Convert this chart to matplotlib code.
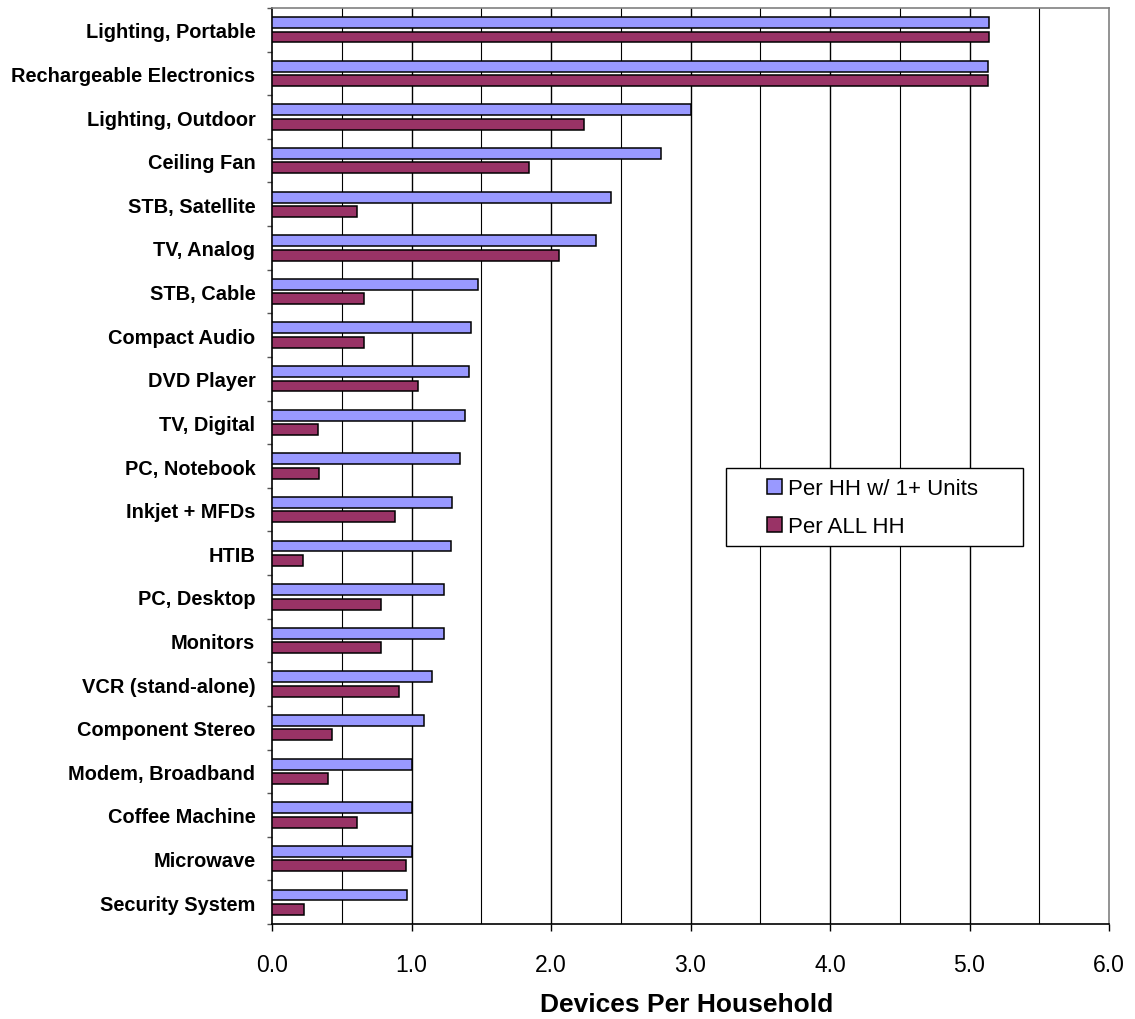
import numpy as np
import matplotlib
matplotlib.use('Agg')
import matplotlib.pyplot as plt
from matplotlib.patches import Rectangle

plt.rcParams['font.family'] = ['Liberation Sans', 'DejaVu Sans']

# devices per household, top to bottom
categories = ['Lighting, Portable', 'Rechargeable Electronics', 'Lighting, Outdoor',
              'Ceiling Fan', 'STB, Satellite', 'TV, Analog', 'STB, Cable',
              'Compact Audio', 'DVD Player', 'TV, Digital', 'PC, Notebook',
              'Inkjet + MFDs', 'HTIB', 'PC, Desktop', 'Monitors',
              'VCR (stand-alone)', 'Component Stereo', 'Modem, Broadband',
              'Coffee Machine', 'Microwave', 'Security System']
per_hh_units = [5.14, 5.13, 3.00, 2.79, 2.43, 2.32, 1.48, 1.43, 1.41, 1.38, 1.35,
                1.29, 1.28, 1.23, 1.23, 1.15, 1.09, 1.00, 1.00, 1.00, 0.97]
per_all_hh = [5.14, 5.13, 2.24, 1.84, 0.61, 2.06, 0.66, 0.66, 1.05, 0.33, 0.34,
              0.88, 0.22, 0.78, 0.78, 0.91, 0.43, 0.40, 0.61, 0.96, 0.23]
series_names = ['Per HH w/ 1+ Units', 'Per ALL HH']
xticks = [0, 1, 2, 3, 4, 5, 6]

W, H = 1135, 1020
fig = plt.figure(figsize=(W/100, H/100), dpi=100)
ax = fig.add_axes([272/W, 1-925/H, (1109-272)/W, (925-9)/H])

y = np.arange(len(categories))
bh = 0.25
off = 0.165
b1 = ax.barh(y - off, per_hh_units, height=bh, color='#9999FF', edgecolor='black',
             linewidth=1.1, zorder=3, label=series_names[0])
b2 = ax.barh(y + off, per_all_hh, height=bh, color='#993366', edgecolor='black',
             linewidth=1.1, zorder=3, label=series_names[1])

ax.set_xlim(0, 6)
ax.set_ylim(len(categories) - 0.5, -0.5)

# gridlines every 0.5
for gx in np.arange(0.5, 6.0, 0.5):
    lw = 1.0 if gx == int(gx) else 0.8
    ax.axvline(gx, color='black', linewidth=lw, zorder=1)

ax.set_xticks(xticks)
ax.set_xticklabels(['%.1f' % v for v in xticks], fontsize=16.5)
ax.tick_params(axis='x', direction='out', length=5, width=1, color='black', pad=16)

ax.set_yticks(y)
ax.set_yticklabels(categories, fontsize=14.4, fontweight='bold')
ax.tick_params(axis='y', which='major', length=0, pad=12)
ax.set_yticks(np.arange(-0.5, len(categories), 1.0), minor=True)
ax.tick_params(axis='y', which='minor', direction='out', length=3.6, width=1, color='#555555')

ax.spines['left'].set_color('black')
ax.spines['bottom'].set_color('black')
ax.spines['top'].set_color('#808080')
ax.spines['right'].set_color('#808080')
for s in ax.spines.values():
    s.set_linewidth(1.2)

ax.set_xlabel('Devices Per Household', fontsize=19, fontweight='bold', va='baseline')
ax.xaxis.set_label_coords((686.7-272)/(1109-272), (925-1012)/(925-9))

# legend box
fig.patches.append(Rectangle((725.7/W, 1-547.3/H), (1023-725.7)/W, (547.3-469.3)/H,
                             transform=fig.transFigure, facecolor='white',
                             edgecolor='black', linewidth=1, zorder=5))
leg = fig.legend(handles=[b1, b2], loc='center left', bbox_to_anchor=(767/W, 1-508.5/H),
                 frameon=False, fontsize=16, handlelength=0.68, handleheight=0.66,
                 handletextpad=0.25, labelspacing=0.75, borderpad=0, borderaxespad=0)
leg.set_zorder(6)

fig.savefig('out.png', dpi=100)
